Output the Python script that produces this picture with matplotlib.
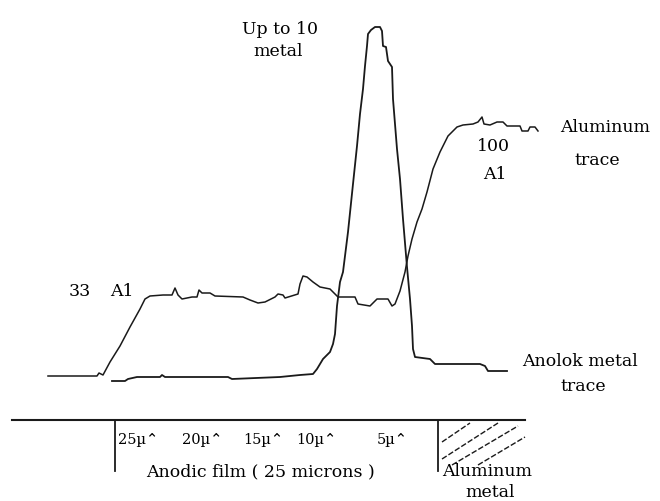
import matplotlib
matplotlib.use('Agg')
import matplotlib.pyplot as plt

plt.rcParams['font.family'] = ['DejaVu Serif', 'DejaVu Sans']

# Aluminium trace (position across film, signal height in image units)
al_pos = [48, 97, 99, 101, 103, 110, 120, 130, 140, 145, 150, 163, 172, 175, 178, 182, 187,
          192, 197, 199, 202, 210, 215, 243, 250, 258, 265, 275, 278, 283, 285, 298, 300, 303,
          307, 313, 320, 330, 335, 338, 355, 358, 370, 377, 388, 392, 395, 400, 405, 408, 412,
          417, 422, 427, 433, 440, 448, 457, 463, 473, 478, 482, 484, 490, 497, 503, 507, 520,
          522, 528, 530, 535, 538]
al_sig = [377, 377, 374, 375, 376, 363, 347, 328, 310, 300, 297, 296, 296, 289, 296, 300, 299,
          298, 298, 291, 294, 294, 297, 298, 301, 304, 303, 298, 295, 296, 299, 295, 285, 277,
          278, 283, 288, 290, 295, 298, 298, 305, 307, 300, 300, 307, 305, 292, 273, 257, 240,
          223, 210, 193, 170, 153, 137, 128, 126, 125, 123, 118, 125, 126, 123, 123, 127, 127,
          132, 132, 128, 128, 132]

# Anolok metal trace
an_pos = [112, 125, 128, 137, 160, 162, 165, 228, 232, 280, 300, 313, 317, 323, 330, 333, 335,
          337, 340, 343, 348, 353, 357, 360, 363, 365, 367, 368, 371, 375, 380, 382, 383, 386,
          388, 390, 392, 393, 397, 400, 403, 407, 410, 412, 413, 415, 430, 435, 480, 485, 488, 507]
an_sig = [382, 382, 380, 378, 378, 376, 378, 378, 380, 378, 376, 375, 370, 360, 353, 345, 335,
          307, 283, 273, 233, 185, 147, 115, 90, 67, 47, 35, 31, 28, 28, 32, 47, 48,
          62, 65, 68, 100, 150, 180, 220, 268, 300, 327, 350, 358, 360, 365, 365, 367, 372, 372]

depth_labels = ['25µ⌃', '20µ⌃', '15µ⌃', '10µ⌃', '5µ⌃']
depth_pos = [118, 182, 243, 296, 377]

fig = plt.figure(figsize=(6.6, 5.02), dpi=100)
ax = fig.add_axes([0, 0, 1, 1])
ax.set_xlim(0, 660)
ax.set_ylim(502, 0)
ax.axis('off')

ink = '#1a1a1a'
ax.plot(al_pos, al_sig, color=ink, lw=1.1)
ax.plot(an_pos, an_sig, color=ink, lw=1.3)

fs = 12.5
ax.text(80, 292, '33', ha='center', va='center', fontsize=fs)
ax.text(122, 292, 'A1', ha='center', va='center', fontsize=fs)
ax.text(318, 29, 'Up to 10', ha='right', va='center', fontsize=fs)
ax.text(303, 52, 'metal', ha='right', va='center', fontsize=fs)
ax.text(493, 147, '100', ha='center', va='center', fontsize=fs)
ax.text(495, 175, 'A1', ha='center', va='center', fontsize=fs)
ax.text(560, 128, 'Aluminum', ha='left', va='center', fontsize=fs)
ax.text(597, 161, 'trace', ha='center', va='center', fontsize=fs)
ax.text(580, 362, 'Anolok metal', ha='center', va='center', fontsize=fs)
ax.text(583, 387, 'trace', ha='center', va='center', fontsize=fs)

# film / metal scale underneath
ax.plot([12, 525], [421, 421], color=ink, lw=1.5)
ax.plot([115, 115], [421, 472], color=ink, lw=1.3)
ax.plot([438, 438], [421, 472], color=ink, lw=1.3)
for lab, p in zip(depth_labels, depth_pos):
    ax.text(p, 440, lab, ha='left', va='center', fontsize=10.5)
ax.text(260, 472, 'Anodic film ( 25 microns )', ha='center', va='center', fontsize=fs)
ax.text(442, 472, 'Aluminum', ha='left', va='center', fontsize=fs)
ax.text(490, 493, 'metal', ha='center', va='center', fontsize=fs)

# hatching for the aluminium metal
hatch = [((442, 443), (470, 424)), ((442, 460), (498, 424)),
         ((452, 466), (518, 427)), ((478, 466), (525, 438))]
for (x0, y0), (x1, y1) in hatch:
    ax.plot([x0, x1], [y0, y1], color=ink, lw=1.0, ls=(0, (4, 1.5)))

fig.savefig('out.png', dpi=100)
